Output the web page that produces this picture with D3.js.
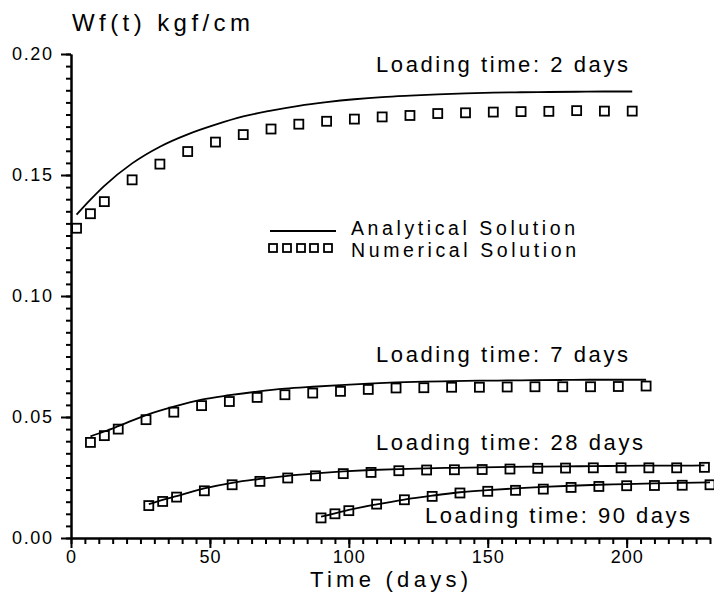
<html>
<head>
<style>
  body { margin: 0; background: #fff; }
  svg { position: absolute; top: 0px; left: 0px; }
  text { font-family: "Liberation Sans", Arial, sans-serif; fill: #000; }
  .curve { fill: none; stroke: #000; stroke-width: 1.8px; }
  .mark { fill: none; stroke: #000; stroke-width: 1.8px; }
  .axis path, .axis line { stroke: #000; stroke-width: 2px; }
  .axis text { font-size: 18px; font-family: "Liberation Sans", Arial, sans-serif; }
</style>
<script src="https://cdnjs.cloudflare.com/ajax/libs/d3/7.8.5/d3.min.js"></script>
</head>
<body>
<svg width="714" height="595"></svg>
<script>
// loading time 2 days
var time2 = [2,7,12,22,32,42,52,62,72,82,92,102,112,122,132,142,152,162,172,182,192,202];
var num2 = [0.128,0.134,0.139,0.148,0.1545,0.1597,0.1636,0.1667,0.169,0.171,0.1722,0.1731,0.174,0.1746,0.1754,0.1757,0.176,0.1762,0.1763,0.1766,0.1764,0.1764];
var ana2 = [0.1336,0.1398,0.1455,0.1548,0.1617,0.1668,0.1708,0.1742,0.1766,0.1786,0.1801,0.1813,0.1822,0.1828,0.1833,0.1837,0.184,0.1842,0.1843,0.1844,0.1845,0.1845];

// loading time 7 days
var time7 = [7,12,17,27,37,47,57,67,77,87,97,107,117,127,137,147,157,167,177,187,197,207];
var num7 = [0.0395,0.0423,0.045,0.0489,0.052,0.0547,0.0564,0.0581,0.0592,0.0599,0.0606,0.0614,0.062,0.0621,0.0623,0.0623,0.0624,0.0625,0.0625,0.0625,0.0626,0.0628];
var ana7 = [0.042,0.044,0.0462,0.0508,0.0543,0.0572,0.059,0.0605,0.0617,0.0625,0.0632,0.0638,0.0643,0.0646,0.0648,0.065,0.0651,0.0652,0.0653,0.0654,0.0654,0.0654];

// loading time 28 days
var time28 = [28,33,38,48,58,68,78,88,98,108,118,128,138,148,158,168,178,188,198,208,218,228];
var num28 = [0.0134,0.0151,0.0169,0.0195,0.022,0.0234,0.0248,0.0257,0.0266,0.0271,0.0278,0.0281,0.0282,0.0283,0.0285,0.0288,0.0289,0.029,0.029,0.029,0.029,0.0292];
var ana28 = [0.014,0.0158,0.0173,0.0205,0.0228,0.0244,0.0257,0.0267,0.0275,0.0281,0.0285,0.0288,0.029,0.0292,0.0294,0.0295,0.0296,0.0297,0.0298,0.0299,0.0299,0.030];

// loading time 90 days
var time90 = [90,95,100,110,120,130,140,150,160,170,180,190,200,210,220,230];
var num90 = [0.0083,0.01,0.0113,0.014,0.0158,0.0172,0.0186,0.0193,0.0197,0.0202,0.0209,0.0213,0.0216,0.0217,0.0218,0.022];
var ana90 = [0.0088,0.0102,0.0116,0.0139,0.0159,0.0175,0.0189,0.0198,0.0205,0.0211,0.0216,0.022,0.0223,0.0226,0.0228,0.023];

var xMajor = [0,50,100,150,200];
var yMajor = [0,0.05,0.10,0.15,0.20];

var series = [
  {label: "Loading time: 2 days", t: time2, num: num2, ana: ana2},
  {label: "Loading time: 7 days", t: time7, num: num7, ana: ana7},
  {label: "Loading time: 28 days", t: time28, num: num28, ana: ana28},
  {label: "Loading time: 90 days", t: time90, num: num90, ana: ana90}
];

var svg = d3.select("svg");

var x = d3.scaleLinear().domain([0,230]).range([71,710]);
var y = d3.scaleLinear().domain([0,0.2]).range([538,54]);

// minor ticks
svg.append("g").attr("class","axis").attr("transform","translate(0,538)")
  .call(d3.axisBottom(x).tickValues(d3.range(0,231,5)).tickSize(6).tickSizeOuter(0).tickFormat(""));
svg.append("g").attr("class","axis").attr("transform","translate(71,0)")
  .call(d3.axisLeft(y).tickValues(d3.range(0,0.2001,0.005)).tickSize(5).tickSizeOuter(0).tickFormat(""));

// major ticks
svg.append("g").attr("class","axis").attr("transform","translate(0,538)")
  .call(d3.axisBottom(x).tickValues(xMajor).tickSize(10).tickPadding(2).tickSizeOuter(0))
  .selectAll("text").attr("letter-spacing", 1);
svg.append("g").attr("class","axis").attr("transform","translate(71,0)")
  .call(d3.axisLeft(y).tickValues(yMajor).tickSize(10).tickPadding(9).tickSizeOuter(0).tickFormat(d3.format(".2f")))
  .selectAll("text").attr("textLength", 40).attr("lengthAdjust", "spacing");

var line = d3.line()
  .x(function(d) { return x(d[0]); })
  .y(function(d) { return y(d[1]); })
  .curve(d3.curveMonotoneX);

series.forEach(function(s) {
  var a = s.t.map(function(t, i) { return [t, s.ana[i]]; });
  var n = s.t.map(function(t, i) { return [t, s.num[i]]; });
  svg.append("path").datum(a).attr("class","curve").attr("d", line);
  svg.selectAll(null).data(n).enter().append("rect")
    .attr("class","mark")
    .attr("x", function(d) { return x(d[0]) - 4.5; })
    .attr("y", function(d) { return y(d[1]) - 4.5; })
    .attr("width", 9).attr("height", 9);
});

// labels
var labelPos = [[376,72,252],[376,362,252],[376,450,267],[425,523,265]];
series.forEach(function(s, i) {
  svg.append("text").attr("x", labelPos[i][0]).attr("y", labelPos[i][1])
    .attr("font-size", 22).attr("textLength", labelPos[i][2]).attr("lengthAdjust","spacing")
    .text(s.label);
});

svg.append("text").attr("x",72).attr("y",31).attr("font-size",24)
  .attr("textLength",178).attr("lengthAdjust","spacing").text("Wf(t) kgf/cm");
svg.append("text").attr("x",310).attr("y",587).attr("font-size",22)
  .attr("textLength",158).attr("lengthAdjust","spacing").text("Time (days)");

// legend
svg.append("line").attr("x1",270).attr("x2",336).attr("y1",231).attr("y2",231)
  .attr("stroke","#000").attr("stroke-width",1.8);
svg.selectAll(null).data([273,287,301,314,328]).enter().append("rect")
  .attr("class","mark").attr("x", function(d) { return d - 4; }).attr("y", 244)
  .attr("width", 8).attr("height", 8);
svg.append("text").attr("x",351).attr("y",235).attr("font-size",19.5)
  .attr("textLength",224).attr("lengthAdjust","spacing").text("Analytical Solution");
svg.append("text").attr("x",351).attr("y",257).attr("font-size",19.5)
  .attr("textLength",225).attr("lengthAdjust","spacing").text("Numerical Solution");
</script>
</body>
</html>
